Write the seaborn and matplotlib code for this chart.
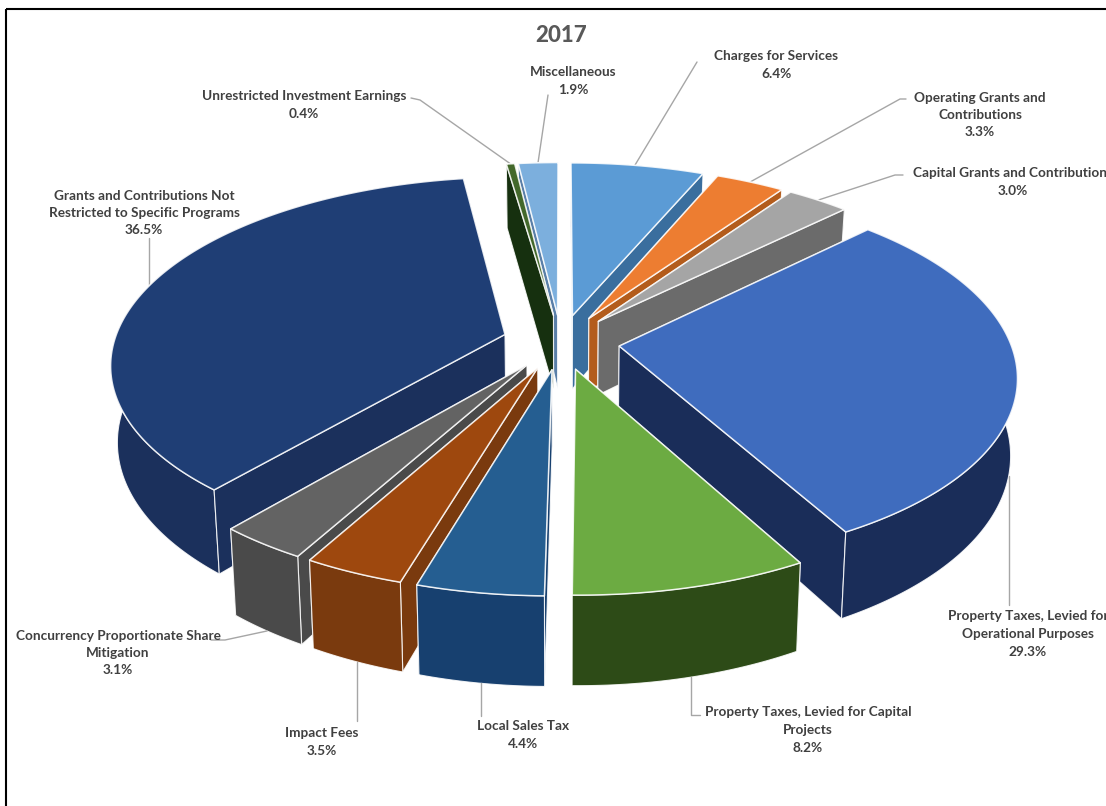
import numpy as np
import matplotlib
matplotlib.use("Agg")
import matplotlib.pyplot as plt
from matplotlib.patches import Polygon, Rectangle
import seaborn as sns

# Revenue shares for the year, clockwise from twelve o'clock
categories = [
    "Charges for Services",
    "Operating Grants and\nContributions",
    "Capital Grants and Contributions",
    "Property Taxes, Levied for\nOperational Purposes",
    "Property Taxes, Levied for Capital\nProjects",
    "Local Sales Tax",
    "Impact Fees",
    "Concurrency Proportionate Share\nMitigation",
    "Grants and Contributions Not\nRestricted to Specific Programs",
    "Unrestricted Investment Earnings",
    "Miscellaneous",
]
shares = [6.4, 3.3, 3.0, 29.3, 8.2, 4.4, 3.5, 3.1, 36.5, 0.4, 1.9]
title = "2017"

top_colors = ["#5B9BD5", "#ED7D31", "#A5A5A5", "#3F6CBE", "#6CAB42", "#255E91",
              "#9E480E", "#636363", "#1F3E75", "#43682B", "#7CAFDD"]
side_colors = ["#3A6E9E", "#B35C1C", "#6B6B6B", "#1A2D59", "#2D4B17", "#17406F",
               "#7A3A0E", "#4A4A4A", "#1B305C", "#16300F", "#5A7FA8"]

# Label centres (x, y) and leader routes: fraction along the rim, rim level, route
label_centres = [(776, 65), (980, 115), (1013, 182), (1028, 634), (808, 730),
                 (523, 735), (322, 742), (118, 653), (144, 213), (304, 105), (573, 81)]
leaders = [
    (0.48, 0, [(697, 62)]),
    (0.5, 0, [(900, 99), (906, 99)]),
    (0.5, 0, [(895, 175), (903, 175)]),
    (0.57, 1, [(None, 605)]),
    (0.5, 1, [(None, 715), (700, 715)]),
    (0.5, 1, [(None, 716)]),
    (0.5, 1, [(None, 721)]),
    (0.5, 1, [(225, 640), (211, 640)]),
    (0.505, 0, [(None, 238)]),
    (0.5, 0, [(420, 100), (411, 98)]),
    (0.5, 0, [(548, 95)]),
]

sns.set_theme(style="white")
plt.rcParams["font.family"] = ["Lato", "DejaVu Sans"]

# Projection of the tilted disc: ellipse axes, centre, thickness, perspective, explosion
CX, CY, A, B, H, K, EXPLODE = 561, 342, 391, 183, 75, 0.15, 0.15


def project(u, v, z=0.0):
    w = 1 + K * v
    return CX + A * u / w * (1 - 0.015 * z), CY - B * v / w + H * z / w


fig, ax = plt.subplots(figsize=(11.06, 8.06), dpi=100)
fig.subplots_adjust(0, 0, 1, 1)
ax.set_xlim(0, 1106)
ax.set_ylim(806, 0)
ax.axis("off")
sns.despine(ax=ax, left=True, bottom=True)

ax.add_patch(Rectangle((6, 9), 1200, 900, fill=False, ec="black", lw=1.5, zorder=0))
ax.text(561, 35, title, ha="center", va="center", fontsize=16, fontweight="black",
        color="#595959")

edges = np.cumsum([0] + shares) / sum(shares) * 2 * np.pi


def slice_geometry(i):
    start, end = edges[i], edges[i + 1]
    mid = (start + end) / 2
    ou, ov = EXPLODE * np.sin(mid), EXPLODE * np.cos(mid)
    theta = np.linspace(start, end, 200)
    return ou, ov, ou + np.sin(theta), ov + np.cos(theta)


order = sorted(range(len(shares)),
               key=lambda i: -np.cos((edges[i] + edges[i + 1]) / 2))
edge_white = (1, 1, 1, 0.85)

for rank, i in enumerate(order):
    ou, ov, ru, rv = slice_geometry(i)
    apex_top, apex_bot = project(ou, ov), project(ou, ov, 1)
    rim_top = np.column_stack(project(ru, rv))
    rim_bot = np.column_stack(project(ru, rv, 1))
    z = 2 + rank * 0.1
    start_wall = [apex_top, rim_top[0], rim_bot[0], apex_bot]
    end_wall = [apex_top, rim_top[-1], rim_bot[-1], apex_bot]
    outer_wall = np.vstack([rim_top, rim_bot[::-1]])
    # walls are stacked far to near so only the faces toward the viewer keep their edges
    radial = [start_wall, end_wall] if rv[0] > rv[-1] else [end_wall, start_wall]
    facing_front = np.cos((edges[i] + edges[i + 1]) / 2) < 0
    walls = radial + [outer_wall] if facing_front else [outer_wall] + radial
    for wall in walls:
        z += 0.001
        ax.add_patch(Polygon(wall, closed=True, fc=side_colors[i], ec=edge_white,
                             lw=0.8, joinstyle="round", zorder=z))
    ax.add_patch(Polygon(np.vstack([apex_top, rim_top]), closed=True, fc=top_colors[i],
                         ec=edge_white, lw=1.1, joinstyle="round", zorder=z + 0.01))

for i, (frac, level, route) in enumerate(leaders):
    _, _, ru, rv = slice_geometry(i)
    k = int(frac * (len(ru) - 1))
    x0, y0 = project(ru[k], rv[k], level)
    xs, ys = [x0], [y0]
    for px, py in route:
        xs.append(x0 if px is None else px)
        ys.append(py)
    ax.plot(xs, ys, color="#A6A6A6", lw=1.0, zorder=1.5 if level == 0 else 4)

for name, share, (lx, ly) in zip(categories, shares, label_centres):
    ax.text(lx, ly, f"{name}\n{share:.1f}%", ha="center", va="center", fontsize=9.8,
            fontweight="bold", color="#404040", linespacing=1.55, zorder=6)

fig.savefig("out.png", dpi=100)
